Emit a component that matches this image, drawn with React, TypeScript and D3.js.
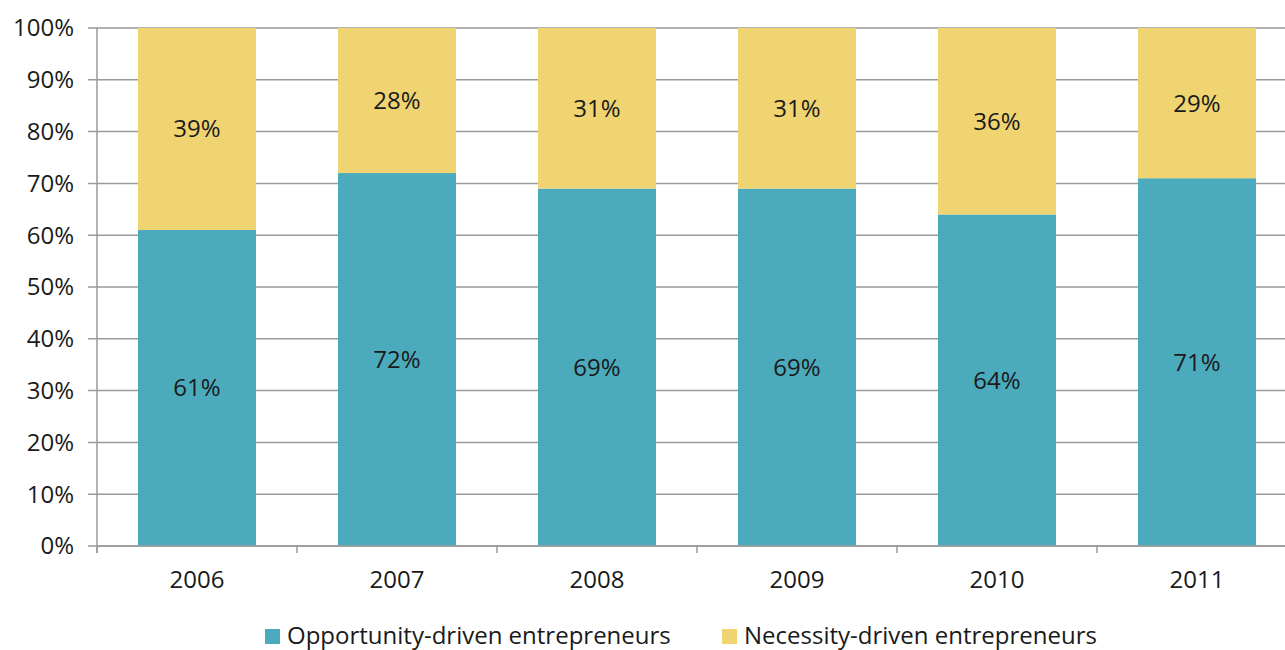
import React from "react";
import * as d3 from "d3";

const years = ["2006", "2007", "2008", "2009", "2010", "2011"];
const opportunity = [61, 72, 69, 69, 64, 71];
const necessity = [39, 28, 31, 31, 36, 29];
const yTicks = [0, 10, 20, 30, 40, 50, 60, 70, 80, 90, 100];
const seriesNames = ["Opportunity-driven entrepreneurs", "Necessity-driven entrepreneurs"];

const W = 1285;
const H = 650;
const FONT = "'Open Sans', 'DejaVu Sans', sans-serif";
const FS = 24;
const COLORS = ["#4BABBC", "#F0D472"];

export default function App() {
  const x = d3.scaleBand().domain(years).range([97, 1297]).paddingInner(0.41).paddingOuter(0.205);
  const xOuter = d3.scaleBand().domain(years).range([97, 1297]);
  const y = d3.scaleLinear().domain([0, 100]).range([546, 28]);

  return (
    <svg width={W} height={H} style={{ position: "absolute", left: 0, top: 0, background: "#fff" }}>
      {yTicks.map((t) => (
        <g key={t}>
          <line x1={88} x2={W} y1={y(t)} y2={y(t)} stroke="#9a9a9a" strokeWidth={1.5} />
          <text x={74} y={y(t)} dy="0.35em" textAnchor="end" fontFamily={FONT} fontSize={FS} fill="#1a1a1a">
            {t}%
          </text>
        </g>
      ))}
      {years.map((yr, i) => {
        const bx = x(yr)!;
        const bw = x.bandwidth();
        const o = opportunity[i];
        const n = necessity[i];
        return (
          <g key={yr}>
            <rect x={bx} width={bw} y={y(o)} height={y(0) - y(o)} fill={COLORS[0]} />
            <rect x={bx} width={bw} y={y(o + n)} height={y(o) - y(o + n)} fill={COLORS[1]} />
            <text x={bx + bw / 2} y={y(o / 2)} dy="0.35em" textAnchor="middle" fontFamily={FONT} fontSize={FS} fill="#1a1a1a">
              {o}%
            </text>
            <text x={bx + bw / 2} y={y(o + n / 2)} dy="0.35em" textAnchor="middle" fontFamily={FONT} fontSize={FS} fill="#1a1a1a">
              {n}%
            </text>
            <text x={bx + bw / 2} y={580} dy="0.35em" textAnchor="middle" fontFamily={FONT} fontSize={FS} fill="#1a1a1a">
              {yr}
            </text>
          </g>
        );
      })}
      <line x1={97} x2={97} y1={28} y2={553} stroke="#9a9a9a" strokeWidth={1.5} />
      {years.map((yr) => (
        <line key={"t" + yr} x1={xOuter(yr)!} x2={xOuter(yr)!} y1={546} y2={553} stroke="#9a9a9a" strokeWidth={1.5} />
      ))}
      <line x1={97} x2={W} y1={546} y2={546} stroke="#9a9a9a" strokeWidth={1.5} />
      <g>
        <rect x={265} y={629} width={15} height={15} fill={COLORS[0]} />
        <text x={287} y={636} dy="0.35em" fontFamily={FONT} fontSize={FS} fill="#1a1a1a">{seriesNames[0]}</text>
        <rect x={722} y={629} width={15} height={15} fill={COLORS[1]} />
        <text x={744} y={636} dy="0.35em" fontFamily={FONT} fontSize={FS} fill="#1a1a1a">{seriesNames[1]}</text>
      </g>
    </svg>
  );
}
